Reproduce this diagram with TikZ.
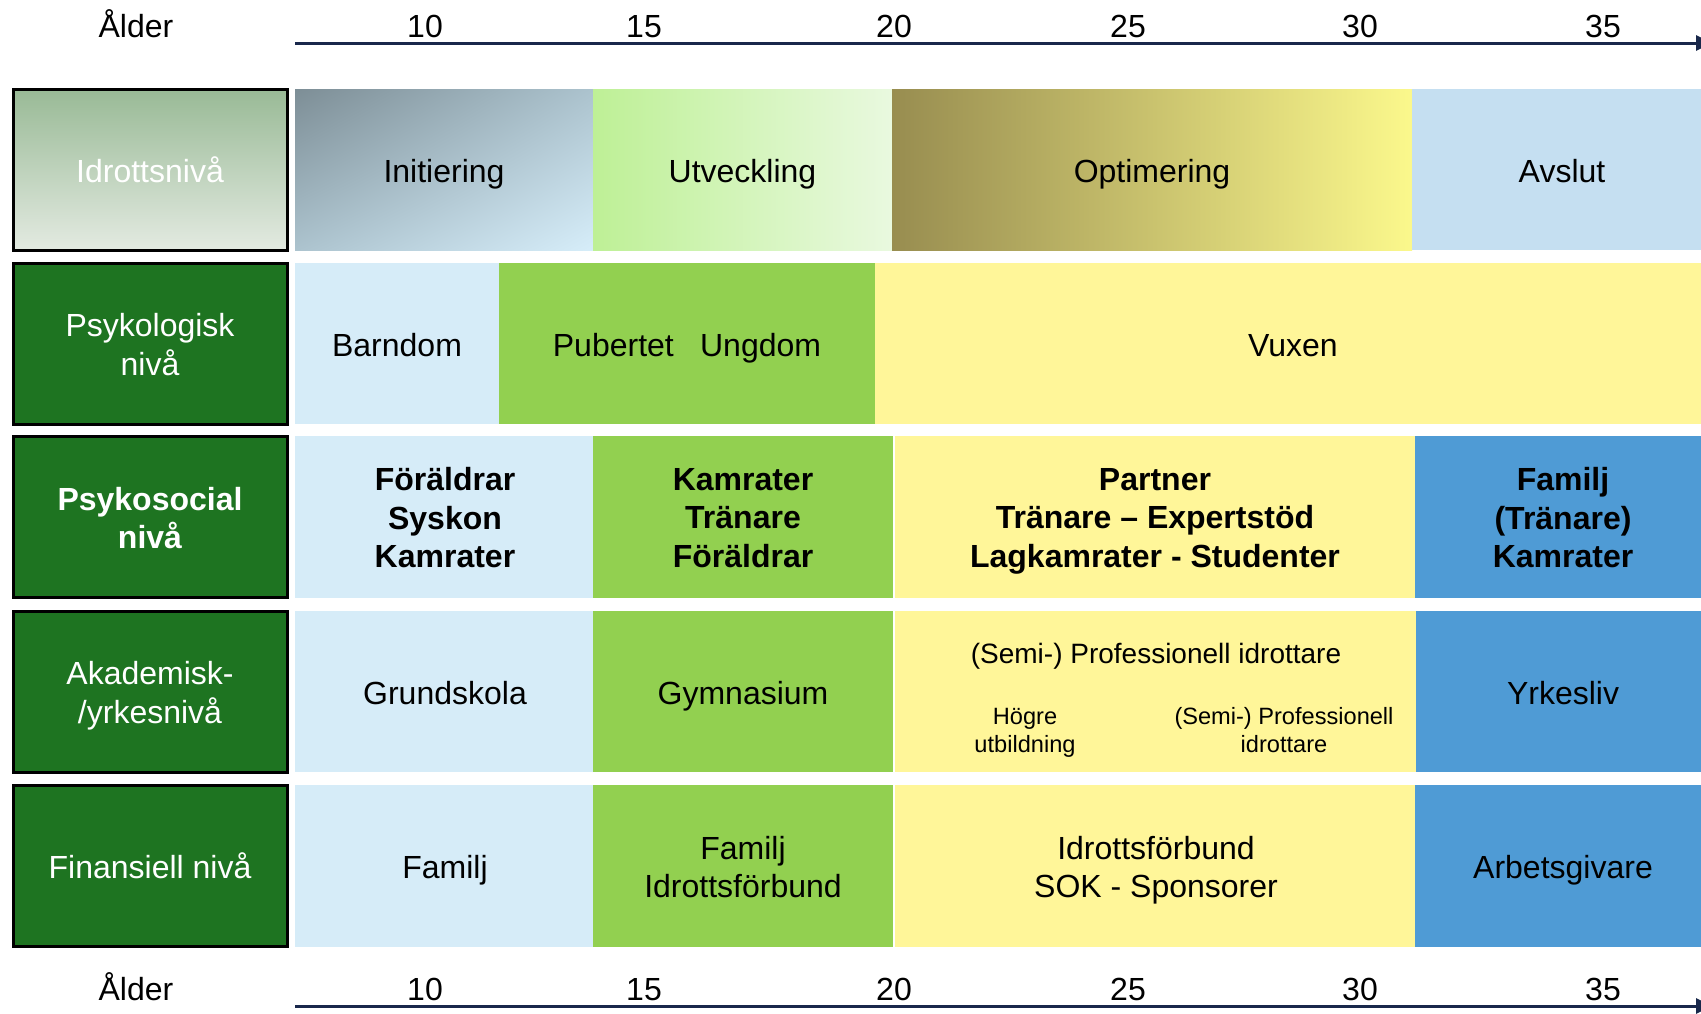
\documentclass[tikz,border=0pt]{standalone}
\usepackage{fontspec}
\setmainfont{Liberation Sans}
\usetikzlibrary{arrows.meta,shadings}

\definecolor{lightblue}{RGB}{214,236,248}
\definecolor{midgreen}{RGB}{146,208,80}
\definecolor{paleyellow}{RGB}{255,246,153}
\definecolor{midblue}{RGB}{79,155,213}
\definecolor{darkgreen}{RGB}{30,116,33}
\definecolor{axisblue}{RGB}{25,40,75}
\definecolor{avslutblue}{RGB}{197,223,241}
\definecolor{initA}{RGB}{125,142,150}
\definecolor{initB}{RGB}{172,195,206}
\definecolor{initC}{RGB}{214,237,249}
\definecolor{utvA}{RGB}{190,240,150}
\definecolor{utvB}{RGB}{233,249,223}
\definecolor{optA}{RGB}{152,141,80}
\definecolor{optB}{RGB}{251,248,140}
\definecolor{idrA}{RGB}{153,186,150}
\definecolor{idrB}{RGB}{227,234,225}

% same box for every line, so text sits on one baseline
\newcommand{\cellstrut}{\rule[-0.3125em]{0pt}{1.25em}}

\begin{document}
\begin{tikzpicture}[x=0.5pt, y=-0.5pt,
    font=\fontsize{16pt}{19.25pt}\selectfont,
    txt/.style={inner sep=0pt, align=center, yshift=-1.4pt,
      execute at begin node=\cellstrut, execute at end node=\cellstrut},
    multi/.style={yshift=-1.5pt},
    levelbox/.style={draw=black, line width=1.5pt, fill=darkgreen,
      minimum width=137pt, minimum height=80.5pt, inner sep=0pt},
    leveltext/.style={txt, text=white},
    cell/.style={txt},
    boldcell/.style={cell, font=\fontsize{16pt}{19.25pt}\selectfont\bfseries},
    smallcell/.style={cell, font=\fontsize{11.8pt}{14pt}\selectfont},
    agearrow/.style={draw=axisblue, line width=1.5pt, -{Triangle[length=8pt,width=7.5pt]}}]
  \useasboundingbox (0,0) rectangle (1701,1013);

  % Age axis, top
  \coordinate (topL) at (295,43);
  \coordinate (topR) at (1712,43);
  \draw[agearrow] (topL) -- (topR);
  \node[txt] (ageTop) at (136,25) {Ålder};
  \foreach \a/\x in {10/425,15/644,20/894,25/1128,30/1360,35/1603}
    \node[txt] (top\a) at (\x,25) {\a};

  % Idrottsniva
  \node[levelbox, fill=none, top color=idrA, bottom color=idrB] (idrott) at (150,169.5) {};
  \node[leveltext] (idrottT) at (idrott) {Idrottsnivå};
  \shade[upper left=initA, upper right=initB, lower left=initB, lower right=initC] (295,89) rectangle (593,250);
  \shade[left color=utvA, right color=utvB] (593,89) rectangle (892,250);
  \shade[left color=optA, right color=optB] (892,89) rectangle (1412,250);
  \fill[avslutblue] (1412,89) rectangle (1701,250);
  \node[cell] (init) at (444,169.5) {Initiering};
  \node[cell] (utv) at (742.5,169.5) {Utveckling};
  \node[cell] (opt) at (1152,169.5) {Optimering};
  \node[cell] (avslut) at (1562,169.5) {Avslut};

  % Psykologisk niva
  \node[levelbox] (psyk) at (150,343.5) {};
  \node[leveltext, multi] (psykT) at (psyk) {Psykologisk\\nivå};
  \fill[lightblue] (295,263) rectangle (499,424);
  \fill[midgreen] (499,263) rectangle (875,424);
  \fill[paleyellow] (875,263) rectangle (1701,424);
  \node[cell] (barndom) at (397,343.5) {Barndom};
  \node[cell] (ungdom) at (687,343.5) {Pubertet\hspace{8.7pt} Ungdom};
  \node[cell] (vuxen) at (1293,343.5) {Vuxen};

  % Psykosocial niva
  \node[levelbox] (psykosoc) at (150,517) {};
  \node[leveltext, multi, font=\fontsize{16pt}{19.25pt}\selectfont\bfseries] (psykosocT) at (psykosoc) {Psykosocial\\nivå};
  \fill[lightblue] (295,436) rectangle (593,598);
  \fill[midgreen] (593,436) rectangle (893,598);
  \fill[paleyellow] (895,436) rectangle (1415,598);
  \fill[midblue] (1415,436) rectangle (1701,598);
  \node[boldcell, multi] (foraldrar) at (445,517) {Föräldrar\\Syskon\\Kamrater};
  \node[boldcell, multi] (kamrater) at (743,517) {Kamrater\\Tränare\\Föräldrar};
  \node[boldcell, multi] (partner) at (1155,517) {Partner\\Tränare – Expertstöd\\Lagkamrater - Studenter};
  \node[boldcell, multi] (familj) at (1563,517) {Familj\\(Tränare)\\Kamrater};

  % Akademisk niva
  \node[levelbox] (akad) at (150,691.5) {};
  \node[leveltext, multi] (akadT) at (akad) {Akademisk-\\/yrkesnivå};
  \fill[lightblue] (295,611) rectangle (593,772);
  \fill[midgreen] (593,611) rectangle (893,772);
  \fill[paleyellow] (895,611) rectangle (1416,772);
  \fill[midblue] (1416,611) rectangle (1701,772);
  \node[cell] (grund) at (445,691.5) {Grundskola};
  \node[cell] (gymn) at (743,691.5) {Gymnasium};
  \node[cell, font=\fontsize{14pt}{17pt}\selectfont] (semi) at (1156,652) {(Semi-) Professionell idrottare};
  \node[smallcell] (hogre) at (1025,731) {Högre\\utbildning};
  \node[smallcell] (semiB) at (1284,731) {(Semi-) Professionell\\idrottare};
  \node[cell] (yrkes) at (1563,691.5) {Yrkesliv};

  % Finansiell niva
  \node[levelbox] (finans) at (150,866) {};
  \node[leveltext] (finansT) at (finans) {Finansiell nivå};
  \fill[lightblue] (295,785) rectangle (593,947);
  \fill[midgreen] (593,785) rectangle (893,947);
  \fill[paleyellow] (895,785) rectangle (1415,947);
  \fill[midblue] (1415,785) rectangle (1701,947);
  \node[cell] (famA) at (445,866) {Familj};
  \node[cell, multi] (famB) at (743,866) {Familj\\Idrottsförbund};
  \node[cell, multi] (sok) at (1156,866) {Idrottsförbund\\SOK - Sponsorer};
  \node[cell] (arbets) at (1563,866) {Arbetsgivare};

  % Age axis, bottom
  \coordinate (botL) at (295,1006);
  \coordinate (botR) at (1712,1006);
  \draw[agearrow] (botL) -- (botR);
  \node[txt] (ageBot) at (136,988) {Ålder};
  \foreach \a/\x in {10/425,15/644,20/894,25/1128,30/1360,35/1603}
    \node[txt] (bot\a) at (\x,988) {\a};
\end{tikzpicture}
\end{document}
